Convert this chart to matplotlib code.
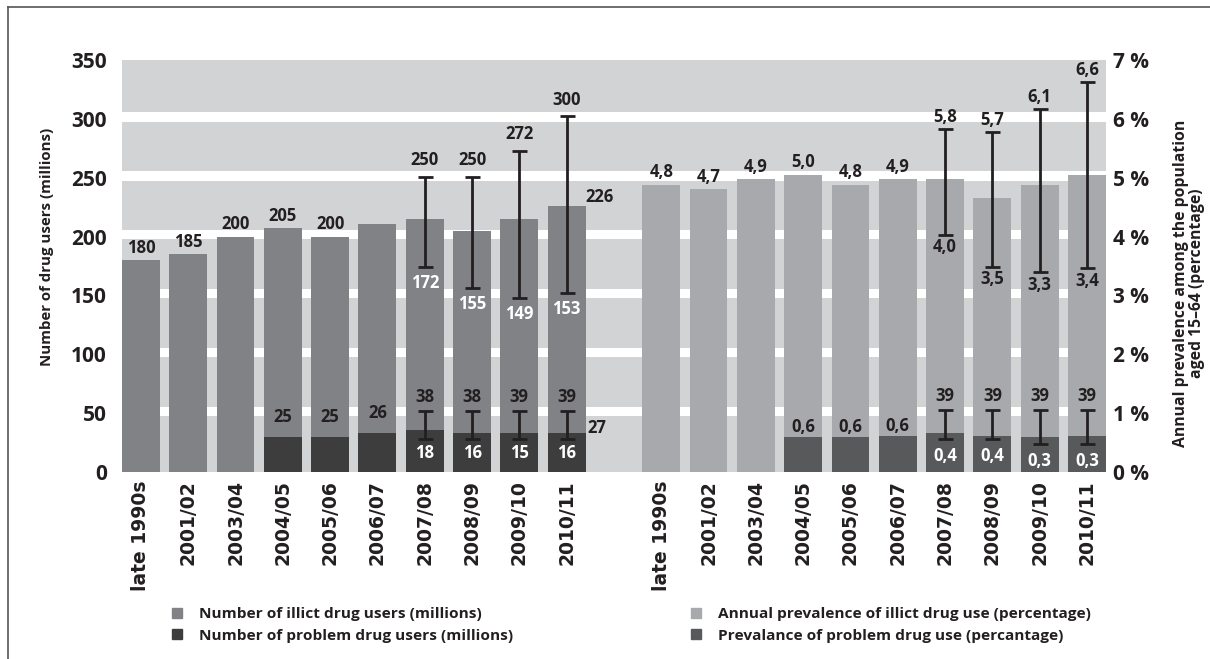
import matplotlib.pyplot as plt
from matplotlib.lines import Line2D
import numpy as np

plt.rcParams['font.family'] = ['Open Sans', 'DejaVu Sans']
plt.rcParams['font.weight'] = 'bold'

nan = np.nan
periods = ['late 1990s', '2001/02', '2003/04', '2004/05', '2005/06', '2006/07',
           '2007/08', '2008/09', '2009/10', '2010/11']

# left block: number of users (millions)
users = [180, 185, 200, 207, 200, 211, 215, 205, 215, 226]
users_txt = ['180', '185', '200', '205', '200', '', '', '', '', '']
users_lo = [nan, nan, nan, nan, nan, nan, 174, 156, 148, 152]
users_hi = [nan, nan, nan, nan, nan, nan, 251, 251, 273, 302]
users_lo_txt = ['', '', '', '', '', '', '172', '155', '149', '153']
users_hi_txt = ['', '', '', '', '', '', '250', '250', '272', '300']

problem = [nan, nan, nan, 30, 30, 33, 36, 33, 33, 33]
problem_txt = ['', '', '', '25', '25', '26', '', '', '', '']
problem_lo = [nan, nan, nan, nan, nan, nan, 28, 28, 28, 28]
problem_hi = [nan, nan, nan, nan, nan, nan, 52, 52, 52, 52]
problem_lo_txt = ['', '', '', '', '', '', '18', '16', '15', '16']
problem_hi_txt = ['', '', '', '', '', '', '38', '38', '39', '39']

# right block: prevalence (%)
prev = [4.88, 4.80, 4.97, 5.05, 4.88, 4.97, 4.97, 4.66, 4.88, 5.05]
prev_txt = ['4,8', '4,7', '4,9', '5,0', '4,8', '4,9', '', '', '', '']
prev_lo = [nan, nan, nan, nan, nan, nan, 4.03, 3.49, 3.39, 3.46]
prev_hi = [nan, nan, nan, nan, nan, nan, 5.83, 5.78, 6.17, 6.63]
prev_lo_txt = ['', '', '', '', '', '', '4,0', '3,5', '3,3', '3,4']
prev_hi_txt = ['', '', '', '', '', '', '5,8', '5,7', '6,1', '6,6']

pprev = [nan, nan, nan, 0.59, 0.59, 0.61, 0.66, 0.61, 0.59, 0.61]
pprev_txt = ['', '', '', '0,6', '0,6', '0,6', '', '', '', '']
pprev_lo = [nan, nan, nan, nan, nan, nan, 0.56, 0.56, 0.47, 0.47]
pprev_hi = [nan, nan, nan, nan, nan, nan, 1.05, 1.05, 1.05, 1.05]
pprev_lo_txt = ['', '', '', '', '', '', '0,4', '0,4', '0,3', '0,3']
pprev_hi_txt = ['', '', '', '', '', '', '39', '39', '39', '39']

C_USERS = '#808285'
C_PROB = '#3d3d3e'
C_PREV = '#a7a9ac'
C_PPREV = '#58595b'
BG = '#d1d3d4'
TXT = '#231f20'

xl = np.arange(10)
xr = np.arange(10) + 11
W = 0.8

fig = plt.figure(figsize=(12.1, 6.59), dpi=100)
ax = fig.add_axes([0.1008, 0.2838, 0.8132, 0.6252])
ax2 = ax.twinx()
ax.set_facecolor(BG)
for t in range(50, 350, 50):
    ax.axhspan(t - 2.5, t + 5.5, color='white', lw=0, zorder=0.5)

ax.set_xlim(-0.4, 20.4)
ax.set_ylim(0, 350)
ax2.set_ylim(0, 7)


def errbars(a, x, lo, hi):
    lo = np.array(lo)
    hi = np.array(hi)
    a.errorbar(x, lo, yerr=[np.zeros(len(lo)), hi - lo], fmt='none', ecolor=TXT,
               elinewidth=2, capsize=5.4, capthick=2, zorder=4)


def labels(a, x, ys, txts, dy, color=TXT, size=12, dx=0, ha='center'):
    for xi, y, t in zip(x, ys, txts):
        if t:
            a.annotate(t, (xi, y), xytext=(dx, dy), textcoords='offset points',
                       ha=ha, va='center', fontsize=size, color=color,
                       fontweight='bold', zorder=5)


ax.bar(xl, users, W, color=C_USERS, zorder=2)
ax.bar(xl, problem, W, color=C_PROB, zorder=3)
errbars(ax, xl, users_lo, users_hi)
errbars(ax, xl, problem_lo, problem_hi)
labels(ax, xl, users, users_txt, 9)
labels(ax, xl, problem, problem_txt, 14.5)
labels(ax, xl, users_hi, users_hi_txt, 12)
labels(ax, xl, users_lo, users_lo_txt, -11.5, color='white')
labels(ax, xl, problem_hi, problem_hi_txt, 10)
labels(ax, xl, problem_lo, problem_lo_txt, -10, color='white')
# side labels of the last left bar
ax.annotate('226', (xl[-1] + W / 2, users[-1]), xytext=(0, 6.5), textcoords='offset points',
            ha='left', va='center', fontsize=12, color=TXT, fontweight='bold')
ax.annotate('27', (xl[-1] + W / 2, problem[-1]), xytext=(1.5, 4), textcoords='offset points',
            ha='left', va='center', fontsize=12, color=TXT, fontweight='bold')

ax2.bar(xr, prev, W, color=C_PREV, zorder=2)
ax2.bar(xr, pprev, W, color=C_PPREV, zorder=3)
errbars(ax2, xr, prev_lo, prev_hi)
errbars(ax2, xr, pprev_lo, pprev_hi)
labels(ax2, xr, prev, prev_txt, 9)
labels(ax2, xr, pprev, pprev_txt, 7.5)
labels(ax2, xr, prev_hi, prev_hi_txt, 8.5)
labels(ax2, xr, prev_lo, prev_lo_txt, -9)
labels(ax2, xr, pprev_hi, pprev_hi_txt, 10)
labels(ax2, xr, pprev_lo, pprev_lo_txt, -12, color='white')

for a in (ax, ax2):
    for s in a.spines.values():
        s.set_visible(False)
    a.tick_params(length=0)

ax.set_yticks(range(0, 351, 50))
ax.set_yticklabels([str(v) for v in range(0, 351, 50)], fontsize=15, fontweight='bold', color=TXT)
ax.tick_params(axis='y', pad=11)
ax2.set_yticks(range(0, 8))
ax2.set_yticklabels(['%d %%' % v for v in range(0, 8)], fontsize=15, fontweight='bold', color=TXT)
ax2.tick_params(axis='y', pad=5)

ax.set_xticks(list(xl) + list(xr))
ax.set_xticklabels(periods + periods, rotation=90, fontsize=13.5, fontweight='bold',
                   color=TXT, family='DejaVu Sans')
ax.tick_params(axis='x', pad=6)

fig.text(47 / 1210, 1 - 247 / 659, 'Number of drug users (millions)', rotation=90,
         ha='center', va='center', fontsize=10.8, fontweight='bold', color=TXT)
fig.text(1189 / 1210, 1 - 283 / 659,
         'Annual prevalence among the population\naged 15\u201364 (percentage)',
         rotation=90, ha='center', va='center', fontsize=11.3, fontweight='bold',
         color=TXT, linespacing=1.0)

# frame lines (top and left only)
fig.add_artist(Line2D([8 / 1210, 1], [1 - 7 / 659, 1 - 7 / 659], color='#555555', lw=1.2))
fig.add_artist(Line2D([8 / 1210, 8 / 1210], [0, 1 - 7 / 659], color='#555555', lw=1.2))


def sq(c):
    return Line2D([], [], marker='s', linestyle='none', color=c, markersize=7)


leg_kw = dict(loc='center left', frameon=False, fontsize=11.1, handlelength=1.0,
              handletextpad=0.92, labelspacing=0.5, borderpad=0, borderaxespad=0)
lg1 = fig.legend([sq(C_USERS), sq(C_PROB)],
                 ['Number of illict drug users (millions)', 'Number of problem drug users (millions)'],
                 bbox_to_anchor=(169 / 1210, 1 - 625 / 659), **leg_kw)
lg2 = fig.legend([sq(C_PREV), sq(C_PPREV)],
                 ['Annual prevalence of illict drug use (percentage)',
                  'Prevalance of problem drug use (percantage)'],
                 bbox_to_anchor=(688 / 1210, 1 - 625 / 659), **leg_kw)
for lg in (lg1, lg2):
    for t in lg.get_texts():
        t.set_color(TXT)
        t.set_fontweight('bold')

fig.savefig('out.png', dpi=100)
